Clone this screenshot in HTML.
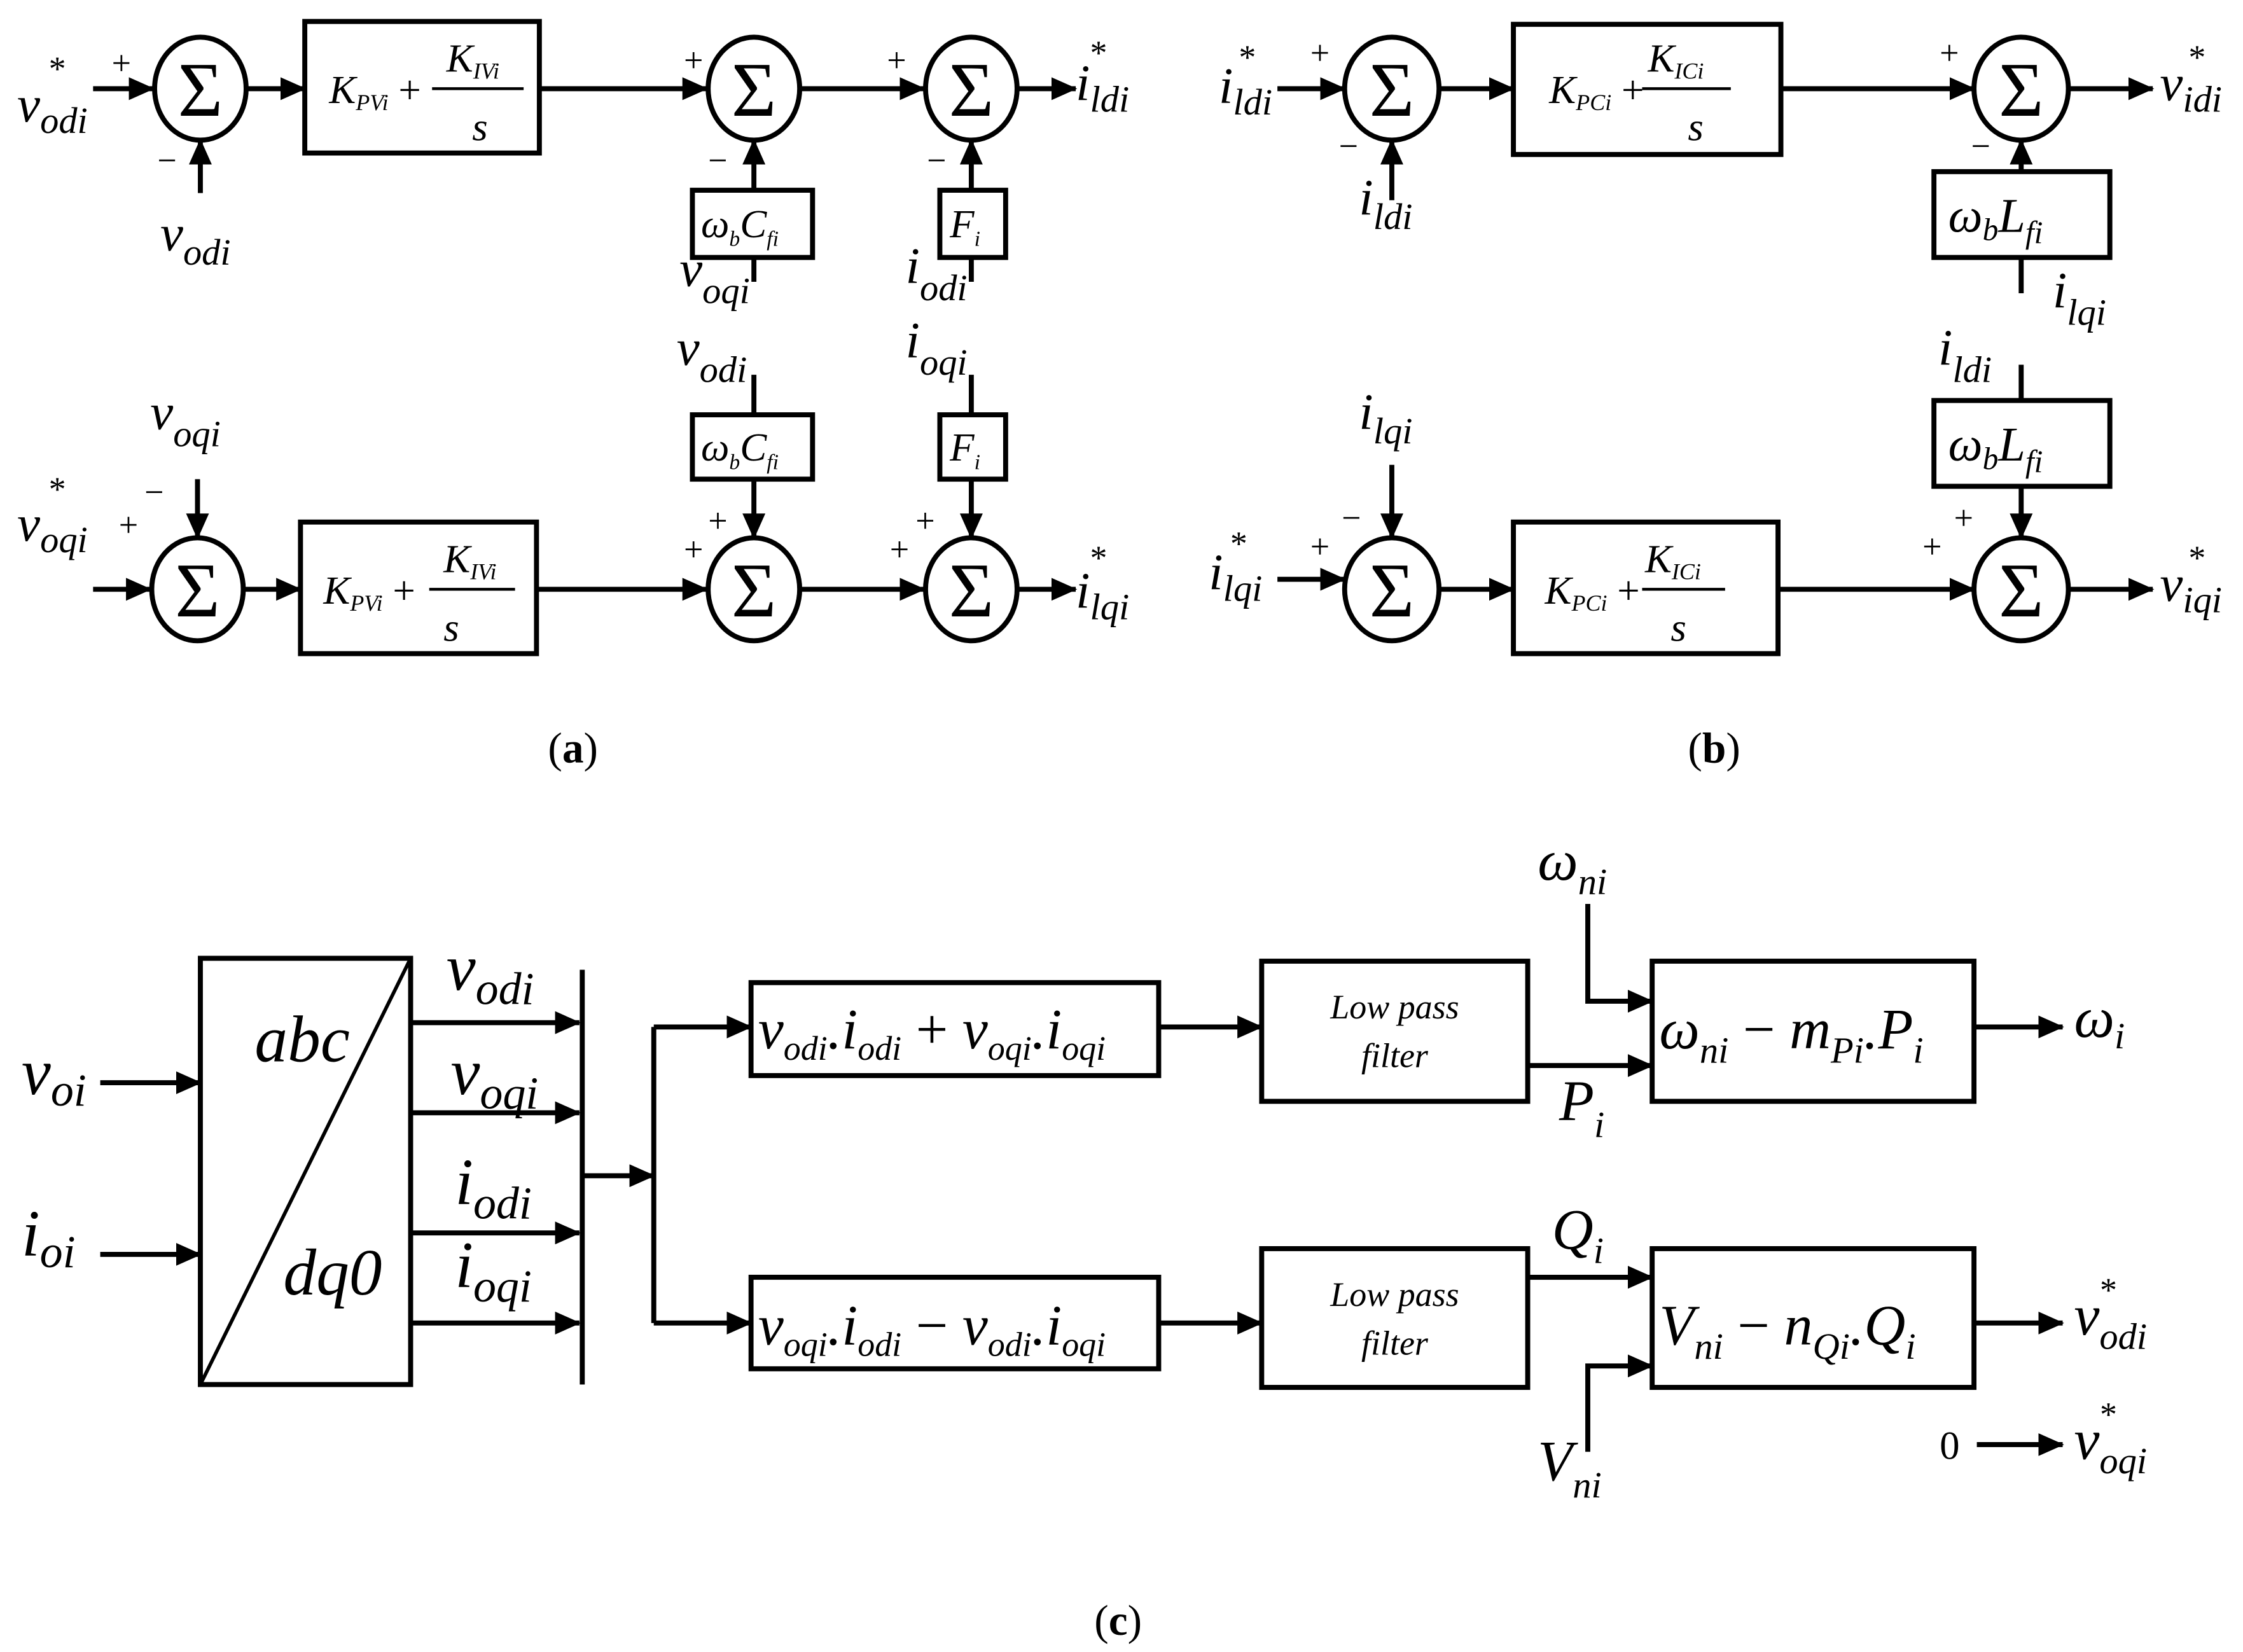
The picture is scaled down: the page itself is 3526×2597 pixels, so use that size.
<!DOCTYPE html>
<html><head><meta charset="utf-8"><style>
html,body{margin:0;padding:0;background:#fff;}
svg{display:block;}
text{font-family:"Liberation Serif",serif;font-style:italic;fill:#000;}
</style></head><body>
<svg width="3526" height="2597" viewBox="0 0 1568 1155" xmlns="http://www.w3.org/2000/svg">
<defs>
<marker id="a" markerUnits="userSpaceOnUse" markerWidth="18" markerHeight="16" refX="17" refY="8" orient="auto">
<path d="M0,0 L18,8 L0,16 Z" fill="#000"/></marker>
</defs>
<g stroke="#000" stroke-width="3.5" fill="none">
<ellipse cx="140" cy="62" rx="32" ry="36"/>
<line x1="65" y1="62" x2="107" y2="62" marker-end="url(#a)"/>
<line x1="140" y1="135" x2="140" y2="98" marker-end="url(#a)"/>
<line x1="172" y1="62" x2="213" y2="62" marker-end="url(#a)"/>
<rect x="213" y="15" width="164" height="92"/>
<line x1="377" y1="62" x2="494" y2="62" marker-end="url(#a)"/>
<ellipse cx="527" cy="62" rx="32" ry="36"/>
<line x1="559" y1="62" x2="646" y2="62" marker-end="url(#a)"/>
<ellipse cx="679" cy="62" rx="32" ry="36"/>
<line x1="711" y1="62" x2="752" y2="62" marker-end="url(#a)"/>
<rect x="484" y="133" width="84" height="47"/>
<line x1="527" y1="133" x2="527" y2="98" marker-end="url(#a)"/>
<line x1="527" y1="180" x2="527" y2="197"/>
<rect x="657" y="133" width="46" height="47"/>
<line x1="679" y1="133" x2="679" y2="98" marker-end="url(#a)"/>
<line x1="679" y1="180" x2="679" y2="197"/>
<line x1="527" y1="262" x2="527" y2="290"/>
<rect x="484" y="290" width="84" height="45"/>
<line x1="527" y1="335" x2="527" y2="376" marker-end="url(#a)"/>
<line x1="679" y1="262" x2="679" y2="290"/>
<rect x="657" y="290" width="46" height="45"/>
<line x1="679" y1="335" x2="679" y2="376" marker-end="url(#a)"/>
<ellipse cx="138" cy="412" rx="32" ry="36"/>
<line x1="65" y1="412" x2="105" y2="412" marker-end="url(#a)"/>
<line x1="138" y1="335" x2="138" y2="376" marker-end="url(#a)"/>
<line x1="170" y1="412" x2="210" y2="412" marker-end="url(#a)"/>
<rect x="210" y="365" width="165" height="92"/>
<line x1="375" y1="412" x2="494" y2="412" marker-end="url(#a)"/>
<ellipse cx="527" cy="412" rx="32" ry="36"/>
<line x1="559" y1="412" x2="646" y2="412" marker-end="url(#a)"/>
<ellipse cx="679" cy="412" rx="32" ry="36"/>
<line x1="711" y1="412" x2="752" y2="412" marker-end="url(#a)"/>
<ellipse cx="973" cy="62" rx="33" ry="36"/>
<line x1="893" y1="62" x2="940" y2="62" marker-end="url(#a)"/>
<line x1="973" y1="140" x2="973" y2="98" marker-end="url(#a)"/>
<line x1="1006" y1="62" x2="1058" y2="62" marker-end="url(#a)"/>
<rect x="1058" y="17" width="187" height="91"/>
<line x1="1245" y1="62" x2="1380" y2="62" marker-end="url(#a)"/>
<ellipse cx="1413" cy="62" rx="33" ry="36"/>
<line x1="1446" y1="62" x2="1505" y2="62" marker-end="url(#a)"/>
<rect x="1352" y="120" width="123" height="60"/>
<line x1="1413" y1="120" x2="1413" y2="98" marker-end="url(#a)"/>
<line x1="1413" y1="180" x2="1413" y2="205"/>
<line x1="1413" y1="255" x2="1413" y2="280"/>
<rect x="1352" y="280" width="123" height="60"/>
<line x1="1413" y1="340" x2="1413" y2="376" marker-end="url(#a)"/>
<ellipse cx="973" cy="412" rx="33" ry="36"/>
<line x1="893" y1="405" x2="940" y2="405" marker-end="url(#a)"/>
<line x1="973" y1="325" x2="973" y2="376" marker-end="url(#a)"/>
<line x1="1006" y1="412" x2="1058" y2="412" marker-end="url(#a)"/>
<rect x="1058" y="365" width="185" height="92"/>
<line x1="1243" y1="412" x2="1380" y2="412" marker-end="url(#a)"/>
<ellipse cx="1413" cy="412" rx="33" ry="36"/>
<line x1="1446" y1="412" x2="1505" y2="412" marker-end="url(#a)"/>
<rect x="140" y="670" width="147" height="298"/>
<line x1="140" y1="968" x2="287" y2="670" stroke-width="2.5"/>
<line x1="70" y1="757" x2="140" y2="757" marker-end="url(#a)"/>
<line x1="70" y1="877" x2="140" y2="877" marker-end="url(#a)"/>
<line x1="287" y1="715" x2="405" y2="715" marker-end="url(#a)"/>
<line x1="287" y1="778" x2="405" y2="778" marker-end="url(#a)"/>
<line x1="287" y1="862" x2="405" y2="862" marker-end="url(#a)"/>
<line x1="287" y1="925" x2="405" y2="925" marker-end="url(#a)"/>
<line x1="407" y1="678" x2="407" y2="968"/>
<line x1="407" y1="822" x2="457" y2="822" marker-end="url(#a)"/>
<line x1="457" y1="718" x2="457" y2="925"/>
<line x1="457" y1="718" x2="525" y2="718" marker-end="url(#a)"/>
<line x1="457" y1="925" x2="525" y2="925" marker-end="url(#a)"/>
<rect x="525" y="687" width="285" height="65"/>
<rect x="525" y="893" width="285" height="64"/>
<line x1="810" y1="718" x2="882" y2="718" marker-end="url(#a)"/>
<line x1="810" y1="925" x2="882" y2="925" marker-end="url(#a)"/>
<rect x="882" y="672" width="186" height="98"/>
<rect x="882" y="873" width="186" height="97"/>
<line x1="1068" y1="745" x2="1155" y2="745" marker-end="url(#a)"/>
<polyline points="1110,632 1110,700 1155,700" marker-end="url(#a)"/>
<rect x="1155" y="672" width="225" height="98"/>
<line x1="1380" y1="718" x2="1442" y2="718" marker-end="url(#a)"/>
<line x1="1068" y1="893" x2="1155" y2="893" marker-end="url(#a)"/>
<polyline points="1110,1015 1110,955 1155,955" marker-end="url(#a)"/>
<rect x="1155" y="873" width="225" height="97"/>
<line x1="1380" y1="925" x2="1442" y2="925" marker-end="url(#a)"/>
<line x1="1382" y1="1010" x2="1442" y2="1010" marker-end="url(#a)"/>
</g>

<g font-size="54" text-anchor="middle">
<text x="140" y="81" style="font-style:normal">Σ</text>
<text x="527" y="81" style="font-style:normal">Σ</text>
<text x="679" y="81" style="font-style:normal">Σ</text>
<text x="138" y="431" style="font-style:normal">Σ</text>
<text x="527" y="431" style="font-style:normal">Σ</text>
<text x="679" y="431" style="font-style:normal">Σ</text>
<text x="973" y="81" style="font-style:normal">Σ</text>
<text x="1413" y="81" style="font-style:normal">Σ</text>
<text x="973" y="431" style="font-style:normal">Σ</text>
<text x="1413" y="431" style="font-style:normal">Σ</text>
</g>

<g font-size="24">
<text x="78" y="52" style="font-style:normal">+</text>
<text x="110" y="120" style="font-style:normal">−</text>
<text x="478" y="50" style="font-style:normal">+</text>
<text x="620" y="50" style="font-style:normal">+</text>
<text x="495" y="120" style="font-style:normal">−</text>
<text x="648" y="120" style="font-style:normal">−</text>
<text x="83" y="375" style="font-style:normal">+</text>
<text x="101" y="352" style="font-style:normal">−</text>
<text x="495" y="372" style="font-style:normal">+</text>
<text x="478" y="392" style="font-style:normal">+</text>
<text x="640" y="372" style="font-style:normal">+</text>
<text x="622" y="392" style="font-style:normal">+</text>
<text x="916" y="45" style="font-style:normal">+</text>
<text x="936" y="110" style="font-style:normal">−</text>
<text x="1356" y="45" style="font-style:normal">+</text>
<text x="1378" y="110" style="font-style:normal">−</text>
<text x="938" y="370" style="font-style:normal">−</text>
<text x="916" y="390" style="font-style:normal">+</text>
<text x="1366" y="370" style="font-style:normal">+</text>
<text x="1344" y="390" style="font-style:normal">+</text>
</g>

<g font-size="36">
<text x="12" y="85">v<tspan font-size="26" dy="8">odi</tspan></text>
<text x="34" y="56" font-size="24" style="font-style:normal">*</text>
<text x="112" y="175">v<tspan font-size="26" dy="10">odi</tspan></text>
<text x="475" y="200">v<tspan font-size="26" dy="12">oqi</tspan></text>
<text x="633" y="198">i<tspan font-size="26" dy="12">odi</tspan></text>
<text x="752" y="70">i<tspan font-size="26" dy="8">ldi</tspan></text>
<text x="762" y="45" font-size="24" style="font-style:normal">*</text>
<text x="473" y="255">v<tspan font-size="26" dy="12">odi</tspan></text>
<text x="633" y="250">i<tspan font-size="26" dy="12">oqi</tspan></text>
<text x="105" y="300">v<tspan font-size="26" dy="12">oqi</tspan></text>
<text x="12" y="378">v<tspan font-size="26" dy="8">oqi</tspan></text>
<text x="34" y="350" font-size="24" style="font-style:normal">*</text>
<text x="752" y="425">i<tspan font-size="26" dy="8">lqi</tspan></text>
<text x="762" y="398" font-size="24" style="font-style:normal">*</text>
</g>
<g font-size="28">
<text x="230" y="72">K<tspan font-size="16" dy="5">PVi</tspan><tspan dy="-5" style="font-style:normal"> + </tspan></text>
<text x="312" y="50">K<tspan font-size="16" dy="5">IVi</tspan></text>
<text x="330" y="98">s</text>
<text x="226" y="422">K<tspan font-size="16" dy="5">PVi</tspan><tspan dy="-5" style="font-style:normal"> + </tspan></text>
<text x="310" y="400">K<tspan font-size="16" dy="5">IVi</tspan></text>
<text x="310" y="448">s</text>
<text x="490" y="166">ω<tspan font-size="15" dy="6">b</tspan><tspan dy="-6">C</tspan><tspan font-size="15" dy="6">fi</tspan></text>
<text x="490" y="322">ω<tspan font-size="15" dy="6">b</tspan><tspan dy="-6">C</tspan><tspan font-size="15" dy="6">fi</tspan></text>
<text x="664" y="166">F<tspan font-size="15" dy="6">i</tspan></text>
<text x="664" y="322">F<tspan font-size="15" dy="6">i</tspan></text>
</g>
<g stroke="#000" stroke-width="2">
<line x1="302" y1="62" x2="366" y2="62"/>
<line x1="300" y1="412" x2="360" y2="412"/>
<line x1="1148" y1="62" x2="1210" y2="62"/>
<line x1="1148" y1="412" x2="1206" y2="412"/>
</g>

<g font-size="36">
<text x="852" y="72">i<tspan font-size="26" dy="8">ldi</tspan></text>
<text x="866" y="48" font-size="24" style="font-style:normal">*</text>
<text x="950" y="150">i<tspan font-size="26" dy="10">ldi</tspan></text>
<text x="1510" y="70">v<tspan font-size="26" dy="8">idi</tspan></text>
<text x="1530" y="48" font-size="24" style="font-style:normal">*</text>
<text x="1435" y="215">i<tspan font-size="26" dy="12">lqi</tspan></text>
<text x="1355" y="255">i<tspan font-size="26" dy="12">ldi</tspan></text>
<text x="950" y="300">i<tspan font-size="26" dy="10">lqi</tspan></text>
<text x="845" y="412">i<tspan font-size="26" dy="8">lqi</tspan></text>
<text x="860" y="388" font-size="24" style="font-style:normal">*</text>
<text x="1510" y="420">v<tspan font-size="26" dy="8">iqi</tspan></text>
<text x="1530" y="398" font-size="24" style="font-style:normal">*</text>
</g>
<g font-size="28">
<text x="1083" y="72">K<tspan font-size="16" dy="5">PCi</tspan><tspan dy="-5" style="font-style:normal"> + </tspan></text>
<text x="1152" y="50">K<tspan font-size="16" dy="5">ICi</tspan></text>
<text x="1180" y="98">s</text>
<text x="1080" y="422">K<tspan font-size="16" dy="5">PCi</tspan><tspan dy="-5" style="font-style:normal"> + </tspan></text>
<text x="1150" y="400">K<tspan font-size="16" dy="5">ICi</tspan></text>
<text x="1168" y="448">s</text>
</g>
<g font-size="34">
<text x="1362" y="162">ω<tspan font-size="22" dy="6">b</tspan><tspan dy="-6">L</tspan><tspan font-size="22" dy="8">fi</tspan></text>
<text x="1362" y="322">ω<tspan font-size="22" dy="6">b</tspan><tspan dy="-6">L</tspan><tspan font-size="22" dy="8">fi</tspan></text>
</g>

<g font-size="30">
<text x="383" y="533" style="font-style:normal">(<tspan font-weight="bold">a</tspan>)</text>
<text x="1180" y="533" style="font-style:normal">(<tspan font-weight="bold">b</tspan>)</text>
<text x="765" y="1143" style="font-style:normal">(<tspan font-weight="bold">c</tspan>)</text>
</g>

<g font-size="46">
<text x="15" y="765">v<tspan font-size="32" dy="8">oi</tspan></text>
<text x="15" y="878">i<tspan font-size="32" dy="8">oi</tspan></text>
<text x="178" y="742">abc</text>
<text x="198" y="905">dq0</text>
<text x="312" y="692">v<tspan font-size="32" dy="10">odi</tspan></text>
<text x="315" y="765">v<tspan font-size="32" dy="10">oqi</tspan></text>
<text x="318" y="842">i<tspan font-size="32" dy="10">odi</tspan></text>
<text x="318" y="900">i<tspan font-size="32" dy="10">oqi</tspan></text>
</g>
<g font-size="40">
<text x="530" y="733">v<tspan font-size="24" dy="8">odi</tspan><tspan dy="-8">.i</tspan><tspan font-size="24" dy="8">odi</tspan><tspan dy="-8" style="font-style:normal"> + </tspan><tspan>v</tspan><tspan font-size="24" dy="8">oqi</tspan><tspan dy="-8">.i</tspan><tspan font-size="24" dy="8">oqi</tspan></text>
<text x="530" y="940">v<tspan font-size="24" dy="8">oqi</tspan><tspan dy="-8">.i</tspan><tspan font-size="24" dy="8">odi</tspan><tspan dy="-8" style="font-style:normal"> − </tspan><tspan>v</tspan><tspan font-size="24" dy="8">odi</tspan><tspan dy="-8">.i</tspan><tspan font-size="24" dy="8">oqi</tspan></text>
<text x="1160" y="733">ω<tspan font-size="26" dy="10">ni</tspan><tspan dy="-10" style="font-style:normal"> − </tspan><tspan>m</tspan><tspan font-size="26" dy="10">Pi</tspan><tspan dy="-10">.P</tspan><tspan font-size="26" dy="10">i</tspan></text>
<text x="1160" y="940">V<tspan font-size="26" dy="10">ni</tspan><tspan dy="-10" style="font-style:normal"> − </tspan><tspan>n</tspan><tspan font-size="26" dy="10">Qi</tspan><tspan dy="-10">.Q</tspan><tspan font-size="26" dy="10">i</tspan></text>
<text x="1450" y="725">ω<tspan font-size="26" dy="8">i</tspan></text>
<text x="1075" y="615">ω<tspan font-size="26" dy="10">ni</tspan></text>
<text x="1090" y="783">P<tspan font-size="26" dy="12">i</tspan></text>
<text x="1085" y="873">Q<tspan font-size="26" dy="10">i</tspan></text>
<text x="1075" y="1035">V<tspan font-size="26" dy="12">ni</tspan></text>
<text x="1450" y="933">v<tspan font-size="26" dy="10">odi</tspan></text>
<text x="1468" y="910" font-size="24" style="font-style:normal">*</text>
<text x="1450" y="1020">v<tspan font-size="26" dy="10">oqi</tspan></text>
<text x="1468" y="997" font-size="24" style="font-style:normal">*</text>
<text x="1356" y="1020" font-size="28" style="font-style:normal">0</text>
</g>
<g font-size="24">
<text x="975" y="712" text-anchor="middle">Low pass</text>
<text x="975" y="746" text-anchor="middle">filter</text>
<text x="975" y="913" text-anchor="middle">Low pass</text>
<text x="975" y="947" text-anchor="middle">filter</text>
</g>
</svg>
</body></html>
